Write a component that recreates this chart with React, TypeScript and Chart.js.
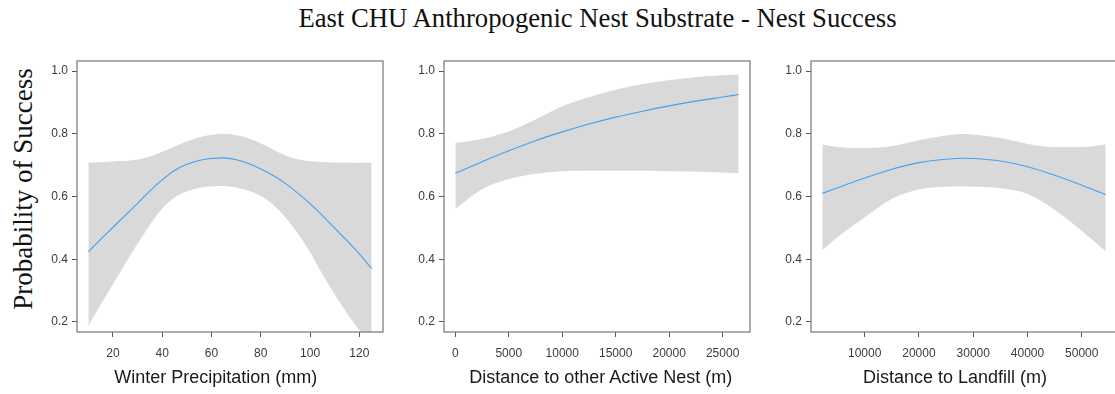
import React, { useEffect, useRef } from "react";
import { Chart, registerables } from "chart.js";

Chart.register(...registerables);

// ---------- data ----------
const yTicks = [0.2, 0.4, 0.6, 0.8, 1.0];

const precipX = [10, 15, 20, 25, 30, 35, 40, 45, 50, 55, 60, 65, 70, 75, 80, 85, 90, 95, 100, 105, 110, 115, 120, 125];
const precipFit = [0.424, 0.463, 0.502, 0.540, 0.578, 0.618, 0.653, 0.683, 0.703, 0.715, 0.721, 0.723, 0.717, 0.705, 0.688, 0.667, 0.642, 0.611, 0.577, 0.539, 0.499, 0.459, 0.417, 0.370];
const precipLower = [0.190, 0.258, 0.323, 0.389, 0.452, 0.512, 0.563, 0.598, 0.618, 0.629, 0.634, 0.635, 0.630, 0.620, 0.603, 0.575, 0.535, 0.485, 0.425, 0.355, 0.290, 0.230, 0.175, 0.125];
const precipUpper = [0.706, 0.708, 0.710, 0.712, 0.716, 0.726, 0.741, 0.758, 0.774, 0.787, 0.795, 0.798, 0.794, 0.784, 0.768, 0.748, 0.729, 0.717, 0.711, 0.708, 0.707, 0.706, 0.706, 0.706];
const precipTicks = [20, 40, 60, 80, 100, 120];

const nestX = [0, 2500, 5000, 7500, 10000, 12500, 15000, 17500, 20000, 22500, 25000, 26500];
const nestFit = [0.674, 0.711, 0.746, 0.778, 0.806, 0.831, 0.853, 0.872, 0.889, 0.904, 0.917, 0.925];
const nestLower = [0.562, 0.625, 0.657, 0.674, 0.682, 0.684, 0.684, 0.684, 0.682, 0.681, 0.678, 0.676];
const nestUpper = [0.769, 0.782, 0.806, 0.844, 0.886, 0.915, 0.939, 0.957, 0.969, 0.979, 0.985, 0.987];
const nestTicks = [0, 5000, 10000, 15000, 20000, 25000];

const landX = [2200, 5000, 10000, 15000, 20000, 25000, 28300, 30000, 35000, 40000, 45000, 50000, 54400];
const landFit = [0.610, 0.628, 0.659, 0.687, 0.708, 0.719, 0.722, 0.721, 0.713, 0.695, 0.668, 0.636, 0.606];
const landLower = [0.431, 0.472, 0.535, 0.594, 0.624, 0.633, 0.634, 0.633, 0.628, 0.610, 0.559, 0.492, 0.427];
const landUpper = [0.764, 0.756, 0.753, 0.759, 0.778, 0.793, 0.798, 0.796, 0.785, 0.766, 0.756, 0.756, 0.764];
const landTicks = [10000, 20000, 30000, 40000, 50000];

const mainTitle = "East CHU Anthropogenic Nest Substrate - Nest Success";
const yTitle = "Probability of Success";
const xTitles = ["Winter Precipitation (mm)", "Distance to other Active Nest (m)", "Distance to Landfill (m)"];

// ---------- styling ----------
const SANS = '"Liberation Sans", Arial, sans-serif';
const SERIF = '"Liberation Serif", "Times New Roman", serif';
const BAND = "#d9d9d9";
const LINE = "#43a0f2";
const TICK_TEXT = "#3b3b3b";

const boxPlugin = {
  id: "rbox",
  afterDraw(chart: any) {
    const { ctx, chartArea } = chart;
    ctx.save();
    ctx.strokeStyle = "#808080";
    ctx.lineWidth = 1.3;
    ctx.strokeRect(chartArea.left, chartArea.top, chartArea.right - chartArea.left, chartArea.bottom - chartArea.top);
    ctx.restore();
  },
};

type PanelProps = {
  xs: number[];
  fit: number[];
  lower: number[];
  upper: number[];
  xTicks: number[];
  areaLeft: number;
};

const AREA_W = 306;
const Y_AXIS_W = 50;
const PAD_R = 10;
const CANVAS_TOP = 40;
const CANVAS_H = 354;

function Panel({ xs, fit, lower, upper, xTicks, areaLeft }: PanelProps) {
  const ref = useRef<HTMLCanvasElement | null>(null);
  useEffect(() => {
    if (!ref.current) return;
    const span = xs[xs.length - 1] - xs[0];
    const xMin = xs[0] - span * 0.04;
    const xMax = xs[xs.length - 1] + span * 0.04;
    const ySpan = yTicks[yTicks.length - 1] - yTicks[0];
    const yMin = yTicks[0] - ySpan * 0.04;
    const yMax = yTicks[yTicks.length - 1] + ySpan * 0.04;
    const pts = (ys: number[]) => xs.map((x, i) => ({ x, y: ys[i] }));
    const chart = new Chart(ref.current, {
      type: "line",
      data: {
        datasets: [
          {
            data: pts(lower),
            borderColor: BAND,
            backgroundColor: BAND,
            borderWidth: 1,
            pointRadius: 0,
            fill: false,
            cubicInterpolationMode: "monotone",
          },
          {
            data: pts(upper),
            borderColor: BAND,
            borderWidth: 1,
            backgroundColor: BAND,
            pointRadius: 0,
            fill: "-1",
            cubicInterpolationMode: "monotone",
          },
          {
            data: pts(fit),
            borderColor: LINE,
            backgroundColor: LINE,
            borderWidth: 1.1,
            pointRadius: 0,
            fill: false,
            order: -1,
            cubicInterpolationMode: "monotone",
          },
        ],
      } as any,
      options: {
        responsive: false,
        animation: false,
        devicePixelRatio: 1,
        layout: { padding: { top: 21, right: PAD_R, left: 0, bottom: 0 } },
        plugins: { legend: { display: false }, tooltip: { enabled: false }, title: { display: false } },
        events: [],
        scales: {
          x: {
            type: "linear",
            min: xMin,
            max: xMax,
            afterBuildTicks: (s: any) => {
              s.ticks = xTicks.map((v) => ({ value: v }));
            },
            afterFit: (s: any) => {
              s.height = 62;
            },
            grid: { display: true, drawOnChartArea: false, drawTicks: true, tickLength: 5, color: "#555", lineWidth: 1 },
            border: { display: false },
            ticks: {
              autoSkip: false,
              maxRotation: 0,
              padding: 9,
              color: TICK_TEXT,
              font: { family: SANS, size: 12 },
              callback: (v: any) => String(v),
            },
          },
          y: {
            type: "linear",
            min: yMin,
            max: yMax,
            afterBuildTicks: (s: any) => {
              s.ticks = yTicks.map((v) => ({ value: v }));
            },
            afterFit: (s: any) => {
              s.width = Y_AXIS_W;
            },
            grid: { display: true, drawOnChartArea: false, drawTicks: true, tickLength: 5, color: "#555", lineWidth: 1 },
            border: { display: false },
            ticks: {
              autoSkip: false,
              padding: 4,
              color: TICK_TEXT,
              font: { family: SANS, size: 12 },
              callback: (v: any) => Number(v).toFixed(1),
            },
          },
        },
      } as any,
      plugins: [boxPlugin],
    });
    return () => chart.destroy();
  }, []);
  const w = AREA_W + Y_AXIS_W + PAD_R;
  return (
    <canvas
      ref={ref}
      width={w}
      height={CANVAS_H}
      style={{ position: "absolute", left: areaLeft - Y_AXIS_W, top: CANVAS_TOP, width: w, height: CANVAS_H }}
    />
  );
}

const xTitleCenters = [215.8, 600.7, 955];

export default function App() {
  return (
    <div
      style={{
        position: "fixed",
        left: 0,
        top: 0,
        width: 1115,
        height: 394,
        overflow: "hidden",
        background: "#fff",
      }}
    >
      <div
        style={{
          position: "absolute",
          left: 97.5,
          width: 1000,
          top: 2.7,
          height: 30,
          lineHeight: "30px",
          textAlign: "center",
          whiteSpace: "nowrap",
          fontFamily: SERIF,
          fontSize: 26.7,
          color: "#111",
        }}
      >
        {mainTitle}
      </div>
      <div
        style={{
          position: "absolute",
          left: 22.6 - 200,
          top: 189 - 15,
          width: 400,
          height: 30,
          lineHeight: "30px",
          textAlign: "center",
          whiteSpace: "nowrap",
          fontFamily: SERIF,
          fontSize: 27,
          color: "#111",
          transform: "rotate(-90deg)",
        }}
      >
        {yTitle}
      </div>
      <Panel xs={precipX} fit={precipFit} lower={precipLower} upper={precipUpper} xTicks={precipTicks} areaLeft={77} />
      <Panel xs={nestX} fit={nestFit} lower={nestLower} upper={nestUpper} xTicks={nestTicks} areaLeft={444} />
      <Panel xs={landX} fit={landFit} lower={landLower} upper={landUpper} xTicks={landTicks} areaLeft={811} />
      {xTitles.map((t, i) => (
        <div
          key={t}
          style={{
            position: "absolute",
            left: xTitleCenters[i] - 200,
            width: 400,
            top: 365.9,
            height: 22,
            lineHeight: "22px",
            textAlign: "center",
            whiteSpace: "nowrap",
            fontFamily: SANS,
            fontSize: 18,
            color: "#1a1a1a",
          }}
        >
          {t}
        </div>
      ))}
    </div>
  );
}
